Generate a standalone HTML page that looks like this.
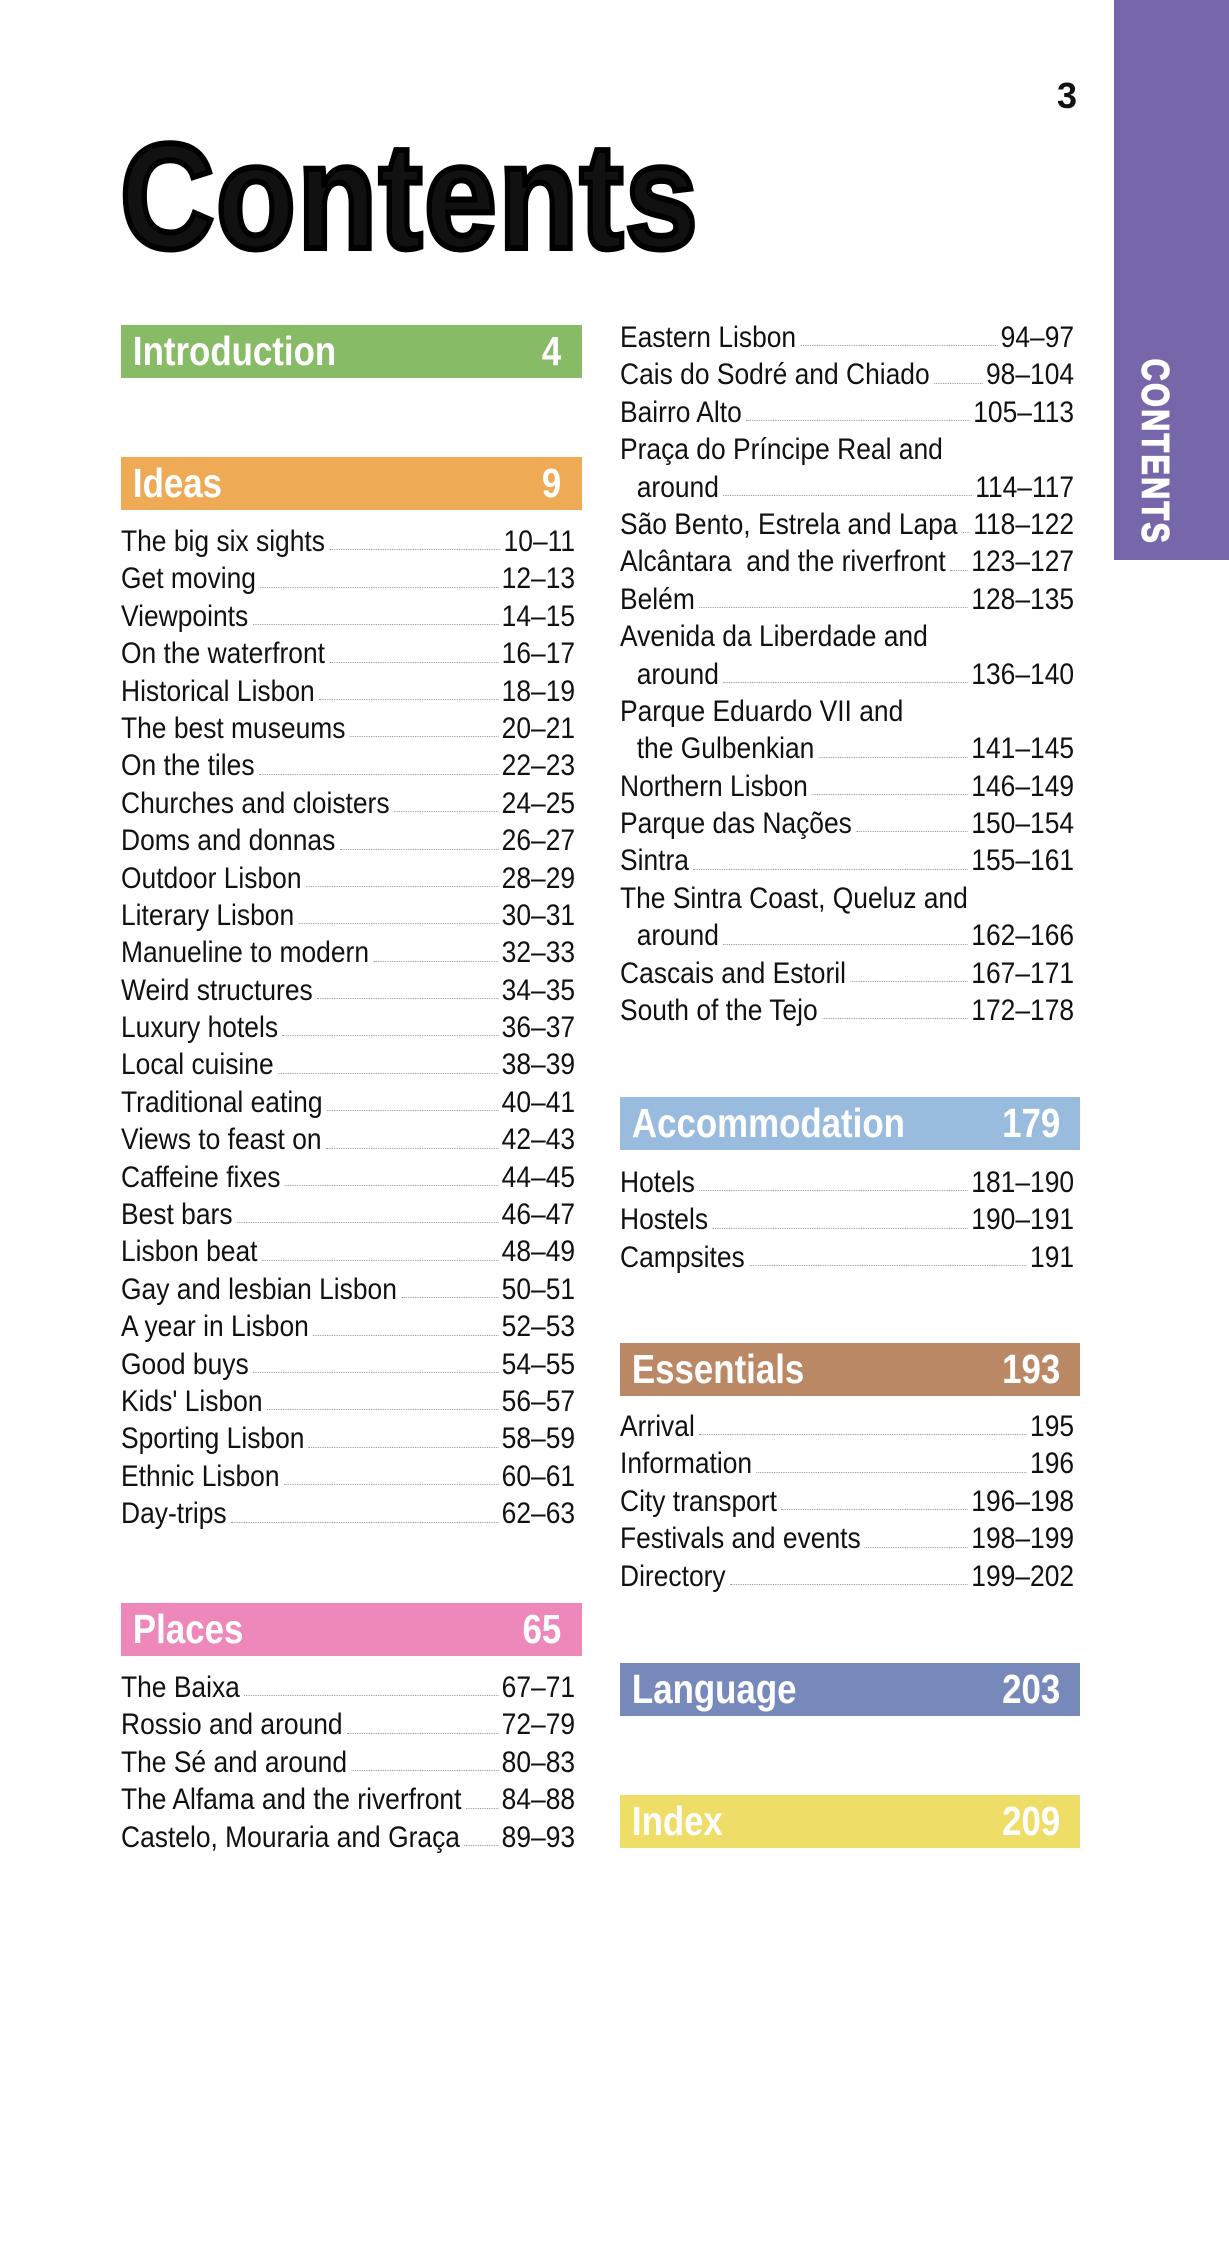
<!DOCTYPE html>
<html><head><meta charset="utf-8"><style>
body{margin:0;width:1229px;height:2254px;background:#fff;position:relative;overflow:hidden;font-family:"Liberation Sans",Arial,sans-serif;color:#111}
.abs{position:absolute}
.col{position:absolute;transform:scaleX(0.88);transform-origin:left top;width:516px}
.row{display:flex;height:37.4px;line-height:37.4px;font-size:30px;white-space:nowrap}
.row .d{flex:1;align-self:flex-end;border-bottom:1.6px dotted #999;margin:0 4px 10px 5px;min-width:4px}
.row.ind .t{padding-left:19px}
.bar{position:absolute;height:53px}
.bar .in{position:absolute;left:0;top:0;height:53px;width:542px;transform:scaleX(0.85);transform-origin:left top;display:flex;justify-content:space-between;align-items:center;color:#fff;font-weight:bold;font-size:41px;padding:0 24px 0 14px;box-sizing:border-box}
</style></head><body>
<div class="abs" style="left:1114px;top:0;width:115px;height:560px;background:#7766aa"></div>
<div class="abs" style="left:1154px;top:452px;transform:translate(-50%,-50%) rotate(90deg) scaleX(0.8);color:#fff;font-weight:bold;font-size:38px;letter-spacing:3px;white-space:nowrap;-webkit-text-stroke:1.5px #fff">CONTENTS</div>
<div class="abs" style="left:1057px;top:76px;font-weight:bold;font-size:36px;line-height:40px">3</div>
<div class="abs" style="left:120px;top:106px;font-weight:bold;font-size:150px;line-height:180px;transform:scaleX(0.87);transform-origin:left top;-webkit-text-stroke:6px #000;letter-spacing:2px">Contents</div>

<div class="bar" style="left:121px;top:325px;width:461px;background:#88bb66"><div class="in"><span>Introduction</span><span>4</span></div></div>
<div class="bar" style="left:121px;top:457px;width:461px;background:#eeaa55"><div class="in"><span>Ideas</span><span>9</span></div></div>
<div class="bar" style="left:121px;top:1603px;width:461px;background:#ee88bb"><div class="in"><span>Places</span><span>65</span></div></div>
<div class="bar" style="left:620px;top:1097px;width:460px;background:#99bbdd"><div class="in"><span>Accommodation</span><span>179</span></div></div>
<div class="bar" style="left:620px;top:1343px;width:460px;background:#bb8866"><div class="in"><span>Essentials</span><span>193</span></div></div>
<div class="bar" style="left:620px;top:1663px;width:460px;background:#7788bb"><div class="in"><span>Language</span><span>203</span></div></div>
<div class="bar" style="left:620px;top:1795px;width:460px;background:#eedd66"><div class="in"><span>Index</span><span>209</span></div></div>

<div class="col" style="left:121px;top:523px">
<div class="row"><span class="t">The big six sights</span><span class="d"></span><span>10–11</span></div>
<div class="row"><span class="t">Get moving</span><span class="d"></span><span>12–13</span></div>
<div class="row"><span class="t">Viewpoints</span><span class="d"></span><span>14–15</span></div>
<div class="row"><span class="t">On the waterfront</span><span class="d"></span><span>16–17</span></div>
<div class="row"><span class="t">Historical Lisbon</span><span class="d"></span><span>18–19</span></div>
<div class="row"><span class="t">The best museums</span><span class="d"></span><span>20–21</span></div>
<div class="row"><span class="t">On the tiles</span><span class="d"></span><span>22–23</span></div>
<div class="row"><span class="t">Churches and cloisters</span><span class="d"></span><span>24–25</span></div>
<div class="row"><span class="t">Doms and donnas</span><span class="d"></span><span>26–27</span></div>
<div class="row"><span class="t">Outdoor Lisbon</span><span class="d"></span><span>28–29</span></div>
<div class="row"><span class="t">Literary Lisbon</span><span class="d"></span><span>30–31</span></div>
<div class="row"><span class="t">Manueline to modern</span><span class="d"></span><span>32–33</span></div>
<div class="row"><span class="t">Weird structures</span><span class="d"></span><span>34–35</span></div>
<div class="row"><span class="t">Luxury hotels</span><span class="d"></span><span>36–37</span></div>
<div class="row"><span class="t">Local cuisine</span><span class="d"></span><span>38–39</span></div>
<div class="row"><span class="t">Traditional eating</span><span class="d"></span><span>40–41</span></div>
<div class="row"><span class="t">Views to feast on</span><span class="d"></span><span>42–43</span></div>
<div class="row"><span class="t">Caffeine fixes</span><span class="d"></span><span>44–45</span></div>
<div class="row"><span class="t">Best bars</span><span class="d"></span><span>46–47</span></div>
<div class="row"><span class="t">Lisbon beat</span><span class="d"></span><span>48–49</span></div>
<div class="row"><span class="t">Gay and lesbian Lisbon</span><span class="d"></span><span>50–51</span></div>
<div class="row"><span class="t">A year in Lisbon</span><span class="d"></span><span>52–53</span></div>
<div class="row"><span class="t">Good buys</span><span class="d"></span><span>54–55</span></div>
<div class="row"><span class="t">Kids' Lisbon</span><span class="d"></span><span>56–57</span></div>
<div class="row"><span class="t">Sporting Lisbon</span><span class="d"></span><span>58–59</span></div>
<div class="row"><span class="t">Ethnic Lisbon</span><span class="d"></span><span>60–61</span></div>
<div class="row"><span class="t">Day-trips</span><span class="d"></span><span>62–63</span></div>
</div>

<div class="col" style="left:121px;top:1669px">
<div class="row"><span class="t">The Baixa</span><span class="d"></span><span>67–71</span></div>
<div class="row"><span class="t">Rossio and around</span><span class="d"></span><span>72–79</span></div>
<div class="row"><span class="t">The Sé and around</span><span class="d"></span><span>80–83</span></div>
<div class="row"><span class="t">The Alfama and the riverfront</span><span class="d"></span><span>84–88</span></div>
<div class="row"><span class="t">Castelo, Mouraria and Graça</span><span class="d"></span><span>89–93</span></div>
</div>

<div class="col" style="left:620px;top:319px">
<div class="row"><span class="t">Eastern Lisbon</span><span class="d"></span><span>94–97</span></div>
<div class="row"><span class="t">Cais do Sodré and Chiado</span><span class="d"></span><span>98–104</span></div>
<div class="row"><span class="t">Bairro Alto</span><span class="d"></span><span>105–113</span></div>
<div class="row"><span class="t">Praça do Príncipe Real and</span></div>
<div class="row ind"><span class="t">around</span><span class="d"></span><span>114–117</span></div>
<div class="row"><span class="t">São Bento, Estrela and Lapa</span><span class="d"></span><span>118–122</span></div>
<div class="row"><span class="t">Alcântara&nbsp; and the riverfront</span><span class="d"></span><span>123–127</span></div>
<div class="row"><span class="t">Belém</span><span class="d"></span><span>128–135</span></div>
<div class="row"><span class="t">Avenida da Liberdade and</span></div>
<div class="row ind"><span class="t">around</span><span class="d"></span><span>136–140</span></div>
<div class="row"><span class="t">Parque Eduardo VII and</span></div>
<div class="row ind"><span class="t">the Gulbenkian</span><span class="d"></span><span>141–145</span></div>
<div class="row"><span class="t">Northern Lisbon</span><span class="d"></span><span>146–149</span></div>
<div class="row"><span class="t">Parque das Nações</span><span class="d"></span><span>150–154</span></div>
<div class="row"><span class="t">Sintra</span><span class="d"></span><span>155–161</span></div>
<div class="row"><span class="t">The Sintra Coast, Queluz and</span></div>
<div class="row ind"><span class="t">around</span><span class="d"></span><span>162–166</span></div>
<div class="row"><span class="t">Cascais and Estoril</span><span class="d"></span><span>167–171</span></div>
<div class="row"><span class="t">South of the Tejo</span><span class="d"></span><span>172–178</span></div>
</div>

<div class="col" style="left:620px;top:1164px">
<div class="row"><span class="t">Hotels</span><span class="d"></span><span>181–190</span></div>
<div class="row"><span class="t">Hostels</span><span class="d"></span><span>190–191</span></div>
<div class="row"><span class="t">Campsites</span><span class="d"></span><span>191</span></div>
</div>

<div class="col" style="left:620px;top:1408px">
<div class="row"><span class="t">Arrival</span><span class="d"></span><span>195</span></div>
<div class="row"><span class="t">Information</span><span class="d"></span><span>196</span></div>
<div class="row"><span class="t">City transport</span><span class="d"></span><span>196–198</span></div>
<div class="row"><span class="t">Festivals and events</span><span class="d"></span><span>198–199</span></div>
<div class="row"><span class="t">Directory</span><span class="d"></span><span>199–202</span></div>
</div>
</body></html>
